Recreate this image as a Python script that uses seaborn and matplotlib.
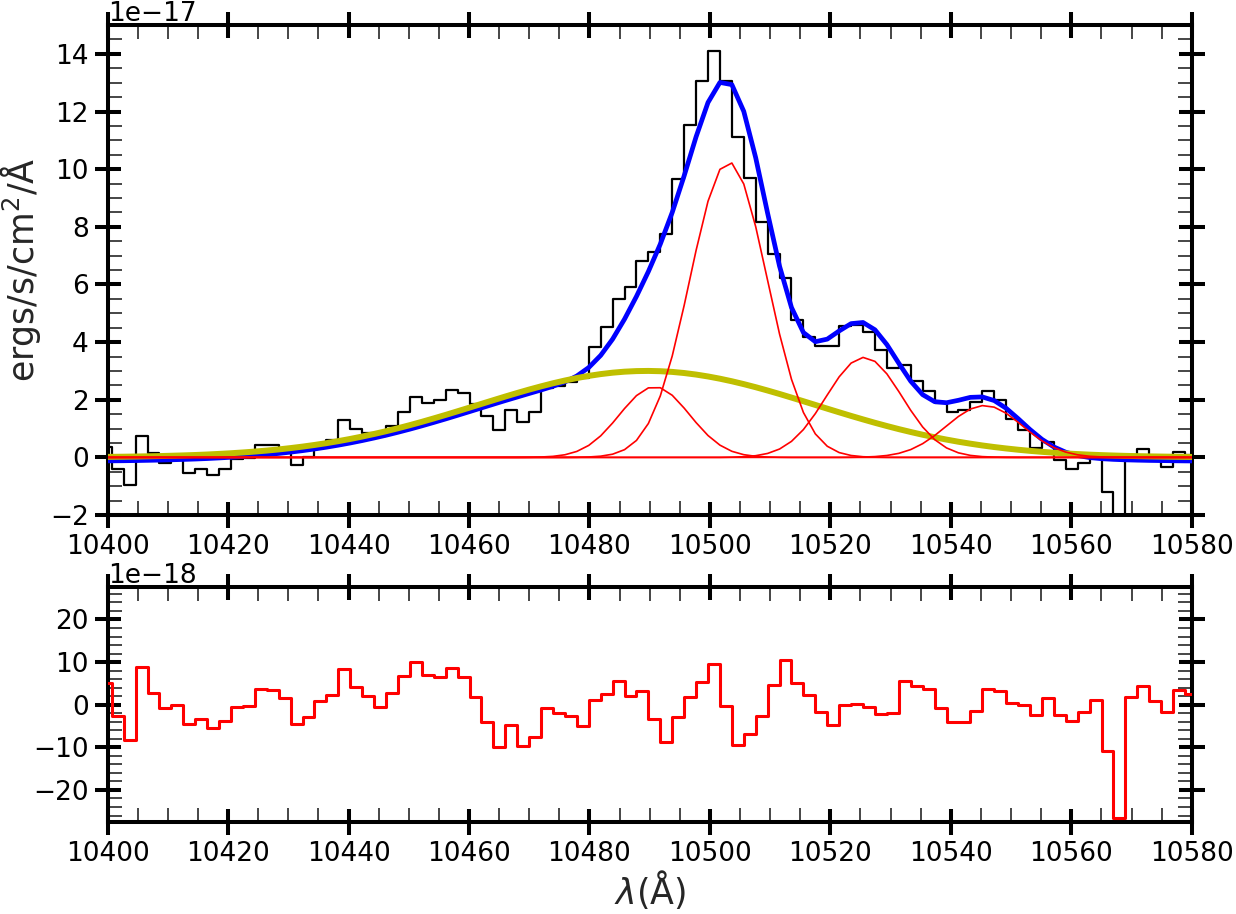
import numpy as np
import matplotlib
matplotlib.use("Agg")
import matplotlib.pyplot as plt
import seaborn as sns
from matplotlib.ticker import MultipleLocator

# ---------------- data ----------------
wave = [10398.70, 10400.68, 10402.66, 10404.64, 10406.62, 10408.60, 10410.58, 10412.56, 10414.54, 10416.52,
        10418.50, 10420.48, 10422.46, 10424.44, 10426.42, 10428.40, 10430.38, 10432.36, 10434.34, 10436.32,
        10438.30, 10440.28, 10442.26, 10444.24, 10446.22, 10448.20, 10450.18, 10452.16, 10454.14, 10456.12,
        10458.10, 10460.08, 10462.06, 10464.04, 10466.02, 10468.00, 10469.98, 10471.96, 10473.94, 10475.92,
        10477.90, 10479.88, 10481.86, 10483.84, 10485.82, 10487.80, 10489.78, 10491.76, 10493.74, 10495.72,
        10497.70, 10499.68, 10501.66, 10503.64, 10505.62, 10507.60, 10509.58, 10511.56, 10513.54, 10515.52,
        10517.50, 10519.48, 10521.46, 10523.44, 10525.42, 10527.40, 10529.38, 10531.36, 10533.34, 10535.32,
        10537.30, 10539.28, 10541.26, 10543.24, 10545.22, 10547.20, 10549.18, 10551.16, 10553.14, 10555.12,
        10557.10, 10559.08, 10561.06, 10563.04, 10565.02, 10567.00, 10568.98, 10570.96, 10572.94, 10574.92,
        10576.90, 10578.88, 10580.86]

# observed flux (units of 1e-17 ergs/s/cm2/A)
flux = [0.30, 0.37, -0.42, -0.97, 0.75, 0.16, -0.19, -0.05, -0.54, -0.41,
        -0.62, -0.41, -0.07, -0.02, 0.43, 0.43, 0.28, -0.27, 0.03, 0.38,
        0.62, 1.31, 0.97, 0.85, 0.74, 1.09, 1.59, 2.08, 1.87, 1.98,
        2.34, 2.22, 1.86, 1.42, 0.95, 1.63, 1.23, 1.59, 2.41, 2.49,
        2.60, 2.75, 3.84, 4.54, 5.51, 5.90, 6.83, 7.12, 7.74, 9.65,
        11.54, 13.07, 14.10, 13.05, 11.10, 9.70, 8.17, 7.04, 6.21, 4.76,
        4.18, 3.86, 3.86, 4.55, 4.58, 4.35, 3.72, 3.10, 3.21, 2.65,
        2.30, 1.88, 1.59, 1.63, 1.93, 2.29, 1.99, 1.32, 0.94, 0.32,
        0.52, -0.09, -0.39, -0.19, 0.05, -1.20, -2.75, 0.05, 0.28, -0.05,
        -0.33, 0.20, 0.10]

# total model (blue)
model_total = [-0.124, -0.120, -0.116, -0.110, -0.102, -0.094, -0.083, -0.071, -0.057, -0.040,
               -0.019, 0.004, 0.031, 0.062, 0.097, 0.137, 0.183, 0.234, 0.291, 0.354,
               0.424, 0.500, 0.583, 0.673, 0.768, 0.871, 0.979, 1.093, 1.212, 1.334,
               1.460, 1.587, 1.716, 1.844, 1.971, 2.094, 2.217, 2.338, 2.467, 2.618,
               2.824, 3.118, 3.539, 4.103, 4.797, 5.585, 6.448, 7.400, 8.499, 9.769,
               11.122, 12.313, 13.009, 12.933, 12.004, 10.396, 8.469, 6.632, 5.201, 4.332,
               4.014, 4.103, 4.387, 4.641, 4.681, 4.427, 3.914, 3.266, 2.644, 2.177,
               1.934, 1.896, 1.981, 2.083, 2.098, 1.972, 1.705, 1.346, 0.967, 0.628,
               0.363, 0.180, 0.064, -0.006, -0.045, -0.069, -0.085, -0.096, -0.105, -0.111,
               -0.117, -0.122, -0.125]

# broad component (yellow)
broad = [0.016, 0.020, 0.024, 0.030, 0.038, 0.046, 0.057, 0.069, 0.083, 0.100,
         0.121, 0.144, 0.171, 0.202, 0.237, 0.277, 0.323, 0.374, 0.431, 0.494,
         0.564, 0.640, 0.723, 0.813, 0.908, 1.011, 1.119, 1.233, 1.352, 1.474,
         1.600, 1.727, 1.856, 1.984, 2.111, 2.234, 2.353, 2.465, 2.571, 2.667,
         2.753, 2.828, 2.890, 2.939, 2.974, 2.994, 3.000, 2.990, 2.966, 2.927,
         2.874, 2.808, 2.730, 2.641, 2.542, 2.435, 2.320, 2.200, 2.075, 1.948,
         1.820, 1.691, 1.564, 1.439, 1.318, 1.200, 1.088, 0.981, 0.881, 0.786,
         0.699, 0.618, 0.543, 0.476, 0.414, 0.359, 0.310, 0.266, 0.227, 0.193,
         0.163, 0.137, 0.115, 0.095, 0.079, 0.065, 0.053, 0.044, 0.035, 0.029,
         0.023, 0.018, 0.015]

# narrow components (red)
narrow_1 = [0] * 30 + [0, 0, 0, 0, 0, 0, 0.004, 0.013, 0.036, 0.091,
                       0.207, 0.416, 0.747, 1.193, 1.695, 2.143, 2.412, 2.417, 2.155, 1.710,
                       1.208, 0.759, 0.425, 0.211, 0.094, 0.037, 0.013, 0.004, 0, 0] + [0] * 33

narrow_2 = [0] * 40 + [0.004, 0.014, 0.042, 0.111, 0.268, 0.588, 1.176, 2.133, 3.518, 5.272,
                       7.180, 8.886, 9.994, 10.213, 9.485, 8.005, 6.139, 4.278, 2.710, 1.559,
                       0.815, 0.387, 0.167, 0.066, 0.023, 0.008, 0.002, 0, 0, 0] + [0] * 23

narrow_3 = [0] * 50 + [0, 0, 0, 0.008, 0.023, 0.059, 0.137, 0.290, 0.556, 0.965,
                       1.519, 2.165, 2.796, 3.272, 3.469, 3.331, 2.898, 2.285, 1.632, 1.055,
                       0.619, 0.329, 0.158, 0.069, 0.027, 0.010, 0.003, 0, 0, 0] + [0] * 13

narrow_4 = [0] * 60 + [0, 0, 0, 0.004, 0.011, 0.028, 0.066, 0.140, 0.271, 0.476,
                       0.756, 1.089, 1.420, 1.678, 1.797, 1.743, 1.532, 1.220, 0.880, 0.575,
                       0.340, 0.183, 0.089, 0.039, 0.016, 0.006, 0.002, 0, 0, 0,
                       0, 0, 0]

# residuals (units of 1e-18)
residual = [5.0, 5.06, -2.74, -8.36, 8.74, 2.73, -0.78, -0.08, -4.6, -3.36,
            -5.55, -3.83, -0.55, -0.31, 3.67, 3.43, 1.55, -4.6, -2.9, 0.78,
            2.26, 8.35, 4.06, 1.95, -0.55, 2.73, 6.63, 9.9, 6.86, 6.47,
            8.58, 6.47, 1.79, -4.14, -10.0, -4.77, -9.7, -7.58, -0.78, -2.03,
            -2.58, -5.0, 1.0, 2.41, 5.53, 2.02, 3.19, -3.44, -8.83, -2.9,
            1.79, 5.22, 9.44, -0.31, -9.46, -6.88, -2.66, 4.6, 10.6, 5.06,
            2.17, -1.8, -4.77, -0.08, 0.15, -0.55, -2.2, -1.96, 5.53, 4.29,
            3.67, -0.78, -4.14, -4.14, -1.49, 3.67, 3.2, 0.3, 0.0, -2.5,
            1.64, -2.5, -3.9, -1.72, 1.17, -10.94, -26.56, 1.79, 4.37, 0.78,
            -1.8, 3.43, 2.58]

FLUX_UNIT = 1e-17
RESID_UNIT = 1e-18

# ---------------- style ----------------
sns.set_style("white")
plt.rcParams["font.family"] = ["DejaVu Sans"]
plt.rcParams["mathtext.fontset"] = "dejavusans"

fig = plt.figure(figsize=(12.36, 9.14), dpi=100)
ax1 = fig.add_axes([0.0871, 0.4365, 0.8771, 0.5361])
ax2 = fig.add_axes([0.0871, 0.1003, 0.8771, 0.2574])

w = np.array(wave)


def draw(ax, values, unit, color, lw, ds="default", z=2):
    sns.lineplot(x=w, y=np.array(values, dtype=float) * unit, ax=ax, color=color,
                 linewidth=lw, drawstyle=ds, estimator=None, sort=False, zorder=z)


# top panel
draw(ax1, flux, FLUX_UNIT, "black", 1.6, "steps-pre", 2)
draw(ax1, model_total, FLUX_UNIT, "#0000ff", 3.4, "default", 3)
draw(ax1, broad, FLUX_UNIT, "#bfbf00", 4.3, "default", 4)
for comp in (narrow_1, narrow_2, narrow_3, narrow_4):
    draw(ax1, comp, FLUX_UNIT, "#ff0000", 1.2, "default", 5)

# bottom panel
draw(ax2, residual, RESID_UNIT, "#ff0000", 2.2, "steps-pre", 3)

for ax in (ax1, ax2):
    ax.set_xlim(10400, 10580)
    ax.xaxis.set_major_locator(MultipleLocator(20))
    ax.xaxis.set_minor_locator(MultipleLocator(5))
    ax.tick_params(which="major", direction="inout", length=19, width=2.9,
                   labelsize=19, pad=4, top=True, right=True, bottom=True, left=True,
                   colors="black")
    ax.tick_params(which="minor", direction="in", length=10, width=1.2,
                   top=True, right=True, bottom=True, left=True)
    for s in ax.spines.values():
        s.set_linewidth(2.9)
        s.set_color("black")
    ax.set_xlabel("")
    ax.set_ylabel("")

ax1.set_ylim(-2e-17, 15e-17)
ax1.yaxis.set_major_locator(MultipleLocator(2e-17))
ax1.yaxis.set_minor_locator(MultipleLocator(0.5e-17))
ax1.ticklabel_format(axis="y", style="sci", scilimits=(-17, -17))
ax1.yaxis.get_offset_text().set_fontsize(19)

ax2.set_ylim(-27.6e-18, 27.6e-18)
ax2.yaxis.set_major_locator(MultipleLocator(10e-18))
ax2.yaxis.set_minor_locator(MultipleLocator(2e-18))
ax2.ticklabel_format(axis="y", style="sci", scilimits=(-18, -18))
ax2.yaxis.get_offset_text().set_fontsize(19)

ax1.set_ylabel("ergs/s/cm$^2$/Å", fontsize=25, labelpad=5)
ax2.set_xlabel(r"$\lambda$(Å)", fontsize=25, labelpad=1)

fig.savefig("out.png", dpi=100)
